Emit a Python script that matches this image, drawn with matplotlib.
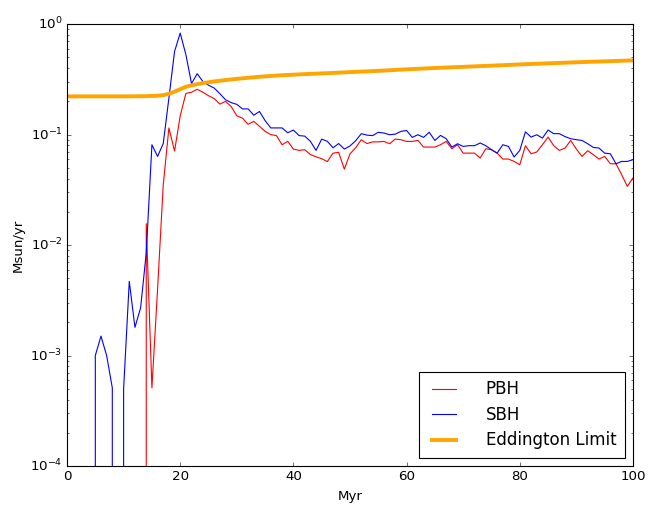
import numpy as np
import matplotlib
matplotlib.use('Agg')
import matplotlib.pyplot as plt

plt.style.use('classic')

# accretion rates in Msun/yr, one value per Myr (0 .. 100)
myr = np.arange(0, 101)

pbh = [0, 0, 0, 0, 0, 0, 0, 0, 0, 0,
       0, 0, 0, 0, 0.0156, 5.1e-4, 0.004, 0.035, 0.115, 0.071,
       0.148, 0.236, 0.242, 0.257, 0.242, 0.225, 0.212, 0.189, 0.2, 0.18,
       0.148, 0.141, 0.124, 0.132, 0.119, 0.107, 0.1, 0.098, 0.081, 0.087,
       0.074, 0.072, 0.073, 0.066, 0.063, 0.0605, 0.057, 0.068, 0.069, 0.0487,
       0.067, 0.076, 0.09, 0.083, 0.086, 0.086, 0.0868, 0.0827, 0.0912, 0.09,
       0.0868, 0.0868, 0.0886, 0.0772, 0.0772, 0.0772, 0.081, 0.0868, 0.0745, 0.081,
       0.068, 0.068, 0.068, 0.0614, 0.0745, 0.073, 0.068, 0.0601, 0.0601, 0.0572,
       0.0534, 0.0794, 0.0671, 0.0696, 0.081, 0.095, 0.0794, 0.072, 0.0756, 0.0886,
       0.074, 0.0635, 0.0715, 0.0658, 0.0601, 0.0635, 0.0545, 0.0545, 0.0434, 0.034,
       0.0405]

sbh = [0, 0, 0, 0, 0, 1.0e-3, 1.5e-3, 1.0e-3, 5.1e-4, 0,
       5.0e-4, 4.7e-3, 1.8e-3, 2.7e-3, 8.5e-3, 0.081, 0.0635, 0.083, 0.214, 0.566,
       0.83, 0.53, 0.29, 0.356, 0.303, 0.28, 0.264, 0.235, 0.207, 0.195,
       0.188, 0.171, 0.171, 0.15, 0.162, 0.134, 0.115, 0.115, 0.115, 0.104,
       0.11, 0.098, 0.097, 0.087, 0.072, 0.091, 0.087, 0.076, 0.083, 0.074,
       0.079, 0.088, 0.102, 0.099, 0.098, 0.105, 0.1033, 0.0998, 0.101, 0.107,
       0.109, 0.0944, 0.0998, 0.0944, 0.105, 0.0886, 0.0984, 0.0918, 0.0772, 0.0827,
       0.0782, 0.0794, 0.0794, 0.084, 0.0794, 0.073, 0.068, 0.081, 0.0782, 0.0627,
       0.072, 0.106, 0.095, 0.0998, 0.093, 0.11, 0.102, 0.102, 0.096, 0.0918,
       0.09, 0.0886, 0.0827, 0.0766, 0.0756, 0.068, 0.0671, 0.0545, 0.0572, 0.0572,
       0.0593]

edd_myr = [0, 5, 10, 14, 16, 17, 18, 19, 20, 21, 22, 24, 26, 28, 30, 34, 38, 42, 46,
           50, 55, 60, 65, 70, 75, 80, 85, 90, 95, 100]
edd = [0.222, 0.222, 0.222, 0.223, 0.225, 0.228, 0.234, 0.245, 0.258, 0.271, 0.28,
       0.293, 0.303, 0.312, 0.32, 0.334, 0.345, 0.353, 0.36,
       0.368, 0.378, 0.39, 0.401, 0.411, 0.421, 0.432, 0.442, 0.452, 0.461, 0.47]

fig = plt.figure(figsize=(8.15, 6.4), dpi=80)
ax = fig.add_axes([0.1028, 0.0898, 0.868, 0.863])

ax.plot(myr, pbh, color='r', lw=1, label='PBH')
ax.plot(myr, sbh, color='b', lw=1, label='SBH')
ax.plot(edd_myr, edd, color='orange', lw=3.5, label='Eddington Limit')

ax.set_yscale('log', nonpositive='clip')
ax.set_xlim(0, 100)
ax.set_ylim(1e-4, 1)
ax.set_xlabel('Myr', labelpad=6)
ax.set_ylabel('Msun/yr')
ax.legend(loc='lower right', fontsize=15, handlelength=2.0, handletextpad=1.5,
          labelspacing=0.45, borderpad=0.5)

fig.savefig('out.png', dpi=80, facecolor='white')
